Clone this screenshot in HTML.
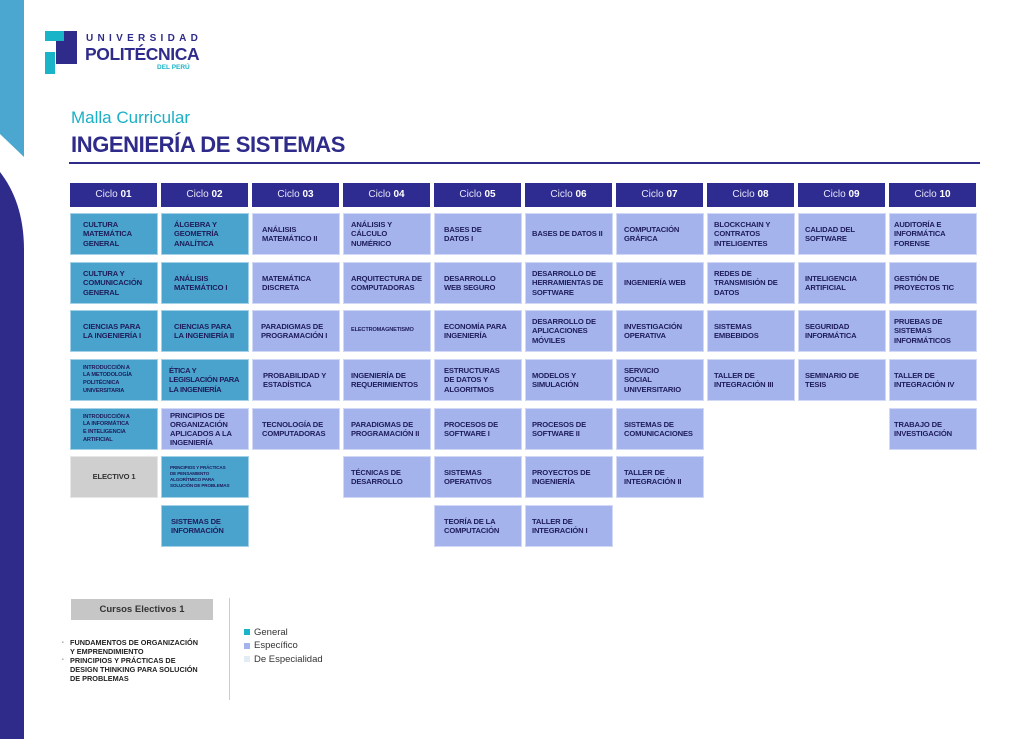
<!DOCTYPE html>
<html><head><meta charset="utf-8"><style>
*{margin:0;padding:0;box-sizing:border-box}
body{width:1024px;height:739px;position:relative;background:#fff;font-family:"Liberation Sans",sans-serif;overflow:hidden}
.a{position:absolute}
.h{position:absolute;top:183px;width:87px;height:24px;background:#2e2b91;color:#e8e8f8;font-size:10px;text-align:center;line-height:24px}
.h b{color:#fff}
.c{position:absolute;width:88px;height:42px;display:flex;align-items:center;padding:0 4px 0 12px;font-size:7.6px;font-weight:bold;line-height:9.2px;color:#1e1c5a;border:1px solid rgba(255,255,255,.5);letter-spacing:-0.15px}
.g{background:#4aa3cd}
.s{background:#a4b3ec}
.t{font-size:5.6px;line-height:7.6px}
.x{font-size:4.6px;line-height:6.2px;padding-left:8px}
</style></head><body>
<svg class="a" style="left:0;top:0" width="30" height="739">
<polygon points="0,0 24,0 24,157 0,134" fill="#4ca7d0"/>
<path d="M0,172 C14,190 24,215 24,250 L24,739 L0,739 Z" fill="#2e2b8a"/>
</svg>
<svg class="a" style="left:44px;top:30px" width="36" height="46">
<rect x="1" y="1" width="20" height="10" fill="#1ab4c8"/>
<rect x="20" y="1" width="13" height="33" fill="#2e2b8a"/>
<rect x="12" y="11" width="9" height="23" fill="#2e2b8a"/>
<rect x="1" y="22" width="10" height="22" fill="#1ab4c8"/>
</svg>
<div class="a" style="left:86px;top:33px;font-size:10px;font-weight:bold;letter-spacing:4.3px;color:#2e2b8a">UNIVERSIDAD</div>
<div class="a" style="left:85px;top:44px;font-size:17.5px;font-weight:bold;color:#2e2b8a;letter-spacing:-0.4px">POLITÉCNICA</div>
<div class="a" style="left:157px;top:64px;font-size:6.5px;font-weight:bold;color:#1ab4c8">DEL PERÚ</div>
<div class="a" style="left:71px;top:108px;font-size:17px;color:#1ab0c6">Malla Curricular</div>
<div class="a" style="left:71px;top:132px;font-size:22px;font-weight:bold;color:#2e2b8a;letter-spacing:-0.4px">INGENIERÍA DE SISTEMAS</div>
<div class="a" style="left:69px;top:162px;width:911px;height:2px;background:#2e2b8a"></div>

<div class="h" style="left:70px">Ciclo <b>01</b></div>
<div class="h" style="left:161px">Ciclo <b>02</b></div>
<div class="h" style="left:252px">Ciclo <b>03</b></div>
<div class="h" style="left:343px">Ciclo <b>04</b></div>
<div class="h" style="left:434px">Ciclo <b>05</b></div>
<div class="h" style="left:525px">Ciclo <b>06</b></div>
<div class="h" style="left:616px">Ciclo <b>07</b></div>
<div class="h" style="left:707px">Ciclo <b>08</b></div>
<div class="h" style="left:798px">Ciclo <b>09</b></div>
<div class="h" style="left:889px">Ciclo <b>10</b></div>

<div class="c g" style="left:70px;top:213px">CULTURA<br>MATEMÁTICA<br>GENERAL</div>
<div class="c g" style="left:70px;top:262px">CULTURA Y<br>COMUNICACIÓN<br>GENERAL</div>
<div class="c g" style="left:70px;top:310px">CIENCIAS PARA<br>LA INGENIERÍA I</div>
<div class="c g t" style="left:70px;top:359px">INTRODUCCIÓN A<br>LA METODOLOGÍA<br>POLITÉCNICA<br>UNIVERSITARIA</div>
<div class="c g t" style="left:70px;top:408px">INTRODUCCIÓN A<br>LA INFORMÁTICA<br>E INTELIGENCIA<br>ARTIFICIAL</div>
<div class="c" style="left:70px;top:456px;background:#cfcfcf;justify-content:center;padding:0;color:#333">ELECTIVO 1</div>

<div class="c g" style="left:161px;top:213px">ÁLGEBRA Y<br>GEOMETRÍA<br>ANALÍTICA</div>
<div class="c g" style="left:161px;top:262px">ANÁLISIS<br>MATEMÁTICO I</div>
<div class="c g" style="left:161px;top:310px">CIENCIAS PARA<br>LA INGENIERÍA II</div>
<div class="c g" style="left:161px;top:359px;padding:0 1px 0 7px;letter-spacing:-0.3px">ÉTICA Y<br>LEGISLACIÓN PARA<br>LA INGENIERÍA</div>
<div class="c s" style="left:161px;top:408px;padding-left:8px">PRINCIPIOS DE<br>ORGANIZACIÓN<br>APLICADOS A LA<br>INGENIERÍA</div>
<div class="c g x" style="left:161px;top:456px">PRINCIPIOS Y PRÁCTICAS<br>DE PENSAMIENTO<br>ALGORÍTMICO PARA<br>SOLUCIÓN DE PROBLEMAS</div>
<div class="c g" style="left:161px;top:505px;padding-left:9px">SISTEMAS DE<br>INFORMACIÓN</div>

<div class="c s" style="left:252px;top:213px;padding-left:9px">ANÁLISIS<br>MATEMÁTICO II</div>
<div class="c s" style="left:252px;top:262px;padding-left:9px">MATEMÁTICA<br>DISCRETA</div>
<div class="c s" style="left:252px;top:310px;padding-left:8px">PARADIGMAS DE<br>PROGRAMACIÓN I</div>
<div class="c s" style="left:252px;top:359px;padding-left:10px">PROBABILIDAD Y<br>ESTADÍSTICA</div>
<div class="c s" style="left:252px;top:408px;padding-left:9px">TECNOLOGÍA DE<br>COMPUTADORAS</div>

<div class="c s" style="left:343px;top:213px;padding-left:7px">ANÁLISIS Y<br>CÁLCULO<br>NUMÉRICO</div>
<div class="c s" style="left:343px;top:262px;padding-left:7px">ARQUITECTURA DE<br>COMPUTADORAS</div>
<div class="c s t" style="left:343px;top:310px;padding-left:7px">ELECTROMAGNETISMO</div>
<div class="c s" style="left:343px;top:359px;padding-left:7px">INGENIERÍA DE<br>REQUERIMIENTOS</div>
<div class="c s" style="left:343px;top:408px;padding-left:7px">PARADIGMAS DE<br>PROGRAMACIÓN II</div>
<div class="c s" style="left:343px;top:456px;padding-left:7px">TÉCNICAS DE<br>DESARROLLO</div>

<div class="c s" style="left:434px;top:213px;padding-left:9px">BASES DE<br>DATOS I</div>
<div class="c s" style="left:434px;top:262px;padding-left:9px">DESARROLLO<br>WEB SEGURO</div>
<div class="c s" style="left:434px;top:310px;padding-left:9px">ECONOMÍA PARA<br>INGENIERÍA</div>
<div class="c s" style="left:434px;top:359px;padding-left:9px">ESTRUCTURAS<br>DE DATOS Y<br>ALGORITMOS</div>
<div class="c s" style="left:434px;top:408px;padding-left:9px">PROCESOS DE<br>SOFTWARE I</div>
<div class="c s" style="left:434px;top:456px;padding-left:9px">SISTEMAS<br>OPERATIVOS</div>
<div class="c s" style="left:434px;top:505px;padding-left:9px">TEORÍA DE LA<br>COMPUTACIÓN</div>

<div class="c s" style="left:525px;top:213px;padding-left:6px">BASES DE DATOS II</div>
<div class="c s" style="left:525px;top:262px;padding-left:6px">DESARROLLO DE<br>HERRAMIENTAS DE<br>SOFTWARE</div>
<div class="c s" style="left:525px;top:310px;padding-left:6px">DESARROLLO DE<br>APLICACIONES<br>MÓVILES</div>
<div class="c s" style="left:525px;top:359px;padding-left:6px">MODELOS Y<br>SIMULACIÓN</div>
<div class="c s" style="left:525px;top:408px;padding-left:6px">PROCESOS DE<br>SOFTWARE II</div>
<div class="c s" style="left:525px;top:456px;padding-left:6px">PROYECTOS DE<br>INGENIERÍA</div>
<div class="c s" style="left:525px;top:505px;padding-left:6px">TALLER DE<br>INTEGRACIÓN I</div>

<div class="c s" style="left:616px;top:213px;padding-left:7px">COMPUTACIÓN<br>GRÁFICA</div>
<div class="c s" style="left:616px;top:262px;padding-left:7px">INGENIERÍA WEB</div>
<div class="c s" style="left:616px;top:310px;padding-left:7px">INVESTIGACIÓN<br>OPERATIVA</div>
<div class="c s" style="left:616px;top:359px;padding-left:7px">SERVICIO<br>SOCIAL<br>UNIVERSITARIO</div>
<div class="c s" style="left:616px;top:408px;padding-left:7px">SISTEMAS DE<br>COMUNICACIONES</div>
<div class="c s" style="left:616px;top:456px;padding-left:7px">TALLER DE<br>INTEGRACIÓN II</div>

<div class="c s" style="left:707px;top:213px;padding-left:6px">BLOCKCHAIN Y<br>CONTRATOS<br>INTELIGENTES</div>
<div class="c s" style="left:707px;top:262px;padding-left:6px">REDES DE<br>TRANSMISIÓN DE<br>DATOS</div>
<div class="c s" style="left:707px;top:310px;padding-left:6px">SISTEMAS<br>EMBEBIDOS</div>
<div class="c s" style="left:707px;top:359px;padding-left:6px">TALLER DE<br>INTEGRACIÓN III</div>

<div class="c s" style="left:798px;top:213px;padding-left:6px">CALIDAD DEL<br>SOFTWARE</div>
<div class="c s" style="left:798px;top:262px;padding-left:6px">INTELIGENCIA<br>ARTIFICIAL</div>
<div class="c s" style="left:798px;top:310px;padding-left:6px">SEGURIDAD<br>INFORMÁTICA</div>
<div class="c s" style="left:798px;top:359px;padding-left:6px">SEMINARIO DE<br>TESIS</div>

<div class="c s" style="left:889px;top:213px;padding-left:4px">AUDITORÍA E<br>INFORMÁTICA<br>FORENSE</div>
<div class="c s" style="left:889px;top:262px;padding-left:4px">GESTIÓN DE<br>PROYECTOS TIC</div>
<div class="c s" style="left:889px;top:310px;padding-left:4px">PRUEBAS DE<br>SISTEMAS<br>INFORMÁTICOS</div>
<div class="c s" style="left:889px;top:359px;padding-left:4px">TALLER DE<br>INTEGRACIÓN IV</div>
<div class="c s" style="left:889px;top:408px;padding-left:4px">TRABAJO DE<br>INVESTIGACIÓN</div>

<div class="a" style="left:71px;top:599px;width:142px;height:21px;background:#c6c6c6;text-align:center;line-height:21px;font-size:9.5px;font-weight:bold;color:#333">Cursos Electivos 1</div>
<div class="a" style="left:62px;top:640px;font-size:3px;color:#aaa">■</div>
<div class="a" style="left:62px;top:657px;font-size:3px;color:#aaa">■</div>
<div class="a" style="left:70px;top:638px;font-size:7.3px;font-weight:bold;line-height:9px;color:#222">FUNDAMENTOS DE ORGANIZACIÓN<br>Y EMPRENDIMIENTO<br>PRINCIPIOS Y PRÁCTICAS DE<br>DESIGN THINKING PARA SOLUCIÓN<br>DE PROBLEMAS</div>
<div class="a" style="left:229px;top:598px;width:1px;height:102px;background:#ccc"></div>
<div class="a" style="left:244px;top:629px;width:6px;height:6px;background:#1ab4c8"></div>
<div class="a" style="left:244px;top:643px;width:6px;height:6px;background:#a4b3ec"></div>
<div class="a" style="left:244px;top:656px;width:6px;height:6px;background:#e2ecf4"></div>
<div class="a" style="left:254px;top:626px;font-size:9.5px;line-height:13.3px;color:#333">General<br>Específico<br>De Especialidad</div>
</body></html>
